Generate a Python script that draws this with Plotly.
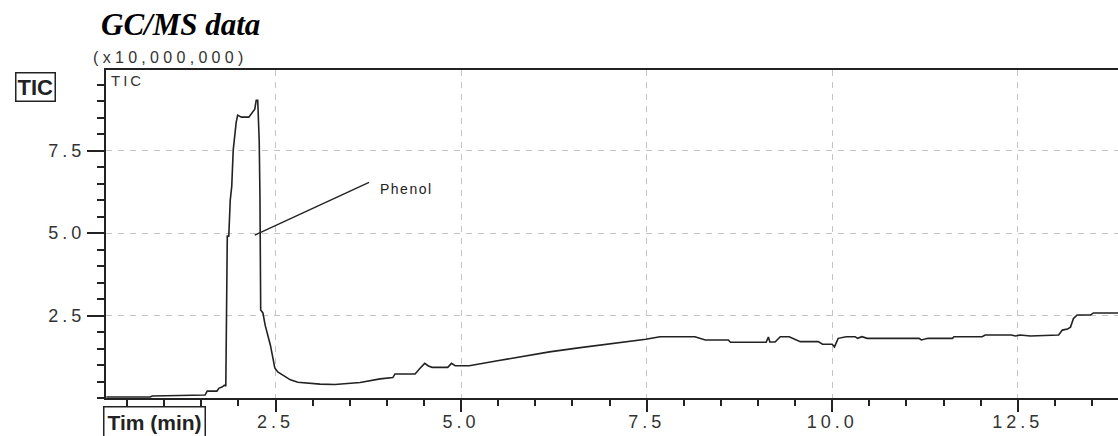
import plotly.graph_objects as go

# ---- data ----
time_min = [0.22, 0.81, 0.84, 1.21, 1.55, 1.58, 1.71, 1.74, 1.78, 1.81, 1.83, 1.85, 1.87,
            1.89, 1.91, 1.93, 1.94, 1.97, 1.99, 2.04, 2.14, 2.18, 2.22, 2.24, 2.26, 2.28,
            2.29, 2.30, 2.33, 2.36, 2.40, 2.43, 2.47, 2.49, 2.53, 2.63, 2.70, 2.80, 2.96,
            3.10, 3.30, 3.50, 3.64, 3.91, 4.08, 4.11, 4.38, 4.45, 4.51, 4.56, 4.61, 4.82,
            4.87, 4.92, 5.11, 5.49, 5.81, 6.19, 6.58, 6.95, 7.26, 7.49, 7.68, 8.15, 8.29,
            8.60, 8.63, 9.11, 9.14, 9.16, 9.23, 9.30, 9.42, 9.57, 9.81, 9.87, 10.00, 10.03,
            10.08, 10.19, 10.31, 10.34, 10.40, 10.47, 11.17, 11.20, 11.29, 11.62, 11.64,
            12.02, 12.06, 12.41, 12.47, 12.53, 12.67, 13.05, 13.10, 13.17, 13.21, 13.25,
            13.30, 13.48, 13.52, 13.85]
tic_1e7 = [0.03, 0.03, 0.06, 0.08, 0.09, 0.21, 0.21, 0.30, 0.33, 0.39, 0.36, 4.91, 4.91,
           6.00, 6.42, 7.52, 7.76, 8.36, 8.58, 8.52, 8.52, 8.64, 8.76, 9.03, 9.03, 7.82,
           6.12, 2.67, 2.58, 2.21, 1.91, 1.61, 1.15, 0.91, 0.79, 0.64, 0.55, 0.48, 0.45,
           0.42, 0.41, 0.44, 0.47, 0.58, 0.62, 0.73, 0.73, 0.91, 1.05, 0.97, 0.93, 0.93,
           1.05, 0.98, 0.98, 1.13, 1.25, 1.40, 1.52, 1.63, 1.73, 1.78, 1.86, 1.86, 1.76,
           1.76, 1.69, 1.69, 1.85, 1.70, 1.70, 1.86, 1.86, 1.71, 1.71, 1.63, 1.63, 1.55,
           1.81, 1.86, 1.86, 1.81, 1.86, 1.81, 1.81, 1.76, 1.81, 1.81, 1.86,
           1.86, 1.91, 1.91, 1.88, 1.91, 1.88, 1.91, 2.06, 2.09, 2.15, 2.41,
           2.52, 2.52, 2.58, 2.58]

x_tick_vals = [2.5, 5.0, 7.5, 10.0, 12.5]
x_tick_text = ["2.5", "5.0", "7.5", "10.0", "12.5"]
y_tick_vals = [2.5, 5.0, 7.5]
y_tick_text = ["2.5", "5.0", "7.5"]

title_text = "GC/MS data"
scale_text = "(x10,000,000)"
trace_label = "TIC"
x_label = "Tim (min)"
peak_label = "Phenol"
peak_line = ([2.22, 3.76], [4.94, 6.54])   # leader line end points (data units)
peak_text_pos = (3.88, 6.33)

# ---- layout geometry ----
W, H = 1118, 436
L, R, T, B = 106, 0, 70, 38
PW, PH = W - L - R, H - T - B


def px(x):
    return (x - L) / PW


def py(y):
    return (H - B - y) / PH


def spaced(s, ls):
    return f'<span style="letter-spacing:{ls}px">{s}</span>'


INK = "#222222"
TXT = "#333333"
GRID = "#c4c4c4"

fig = go.Figure()
fig.add_trace(go.Scatter(x=time_min, y=tic_1e7, mode="lines",
                         line=dict(color=INK, width=1.6), showlegend=False,
                         hoverinfo="skip"))

fig.update_layout(
    width=W, height=H,
    margin=dict(l=L, r=R, t=T, b=B, pad=0),
    paper_bgcolor="white", plot_bgcolor="white",
    font=dict(family="Liberation Sans, Arial, sans-serif", color=TXT),
    xaxis=dict(range=[0.216, 13.85], tickmode="array", tickvals=x_tick_vals,
               ticktext=[spaced(t, 4) for t in x_tick_text],
               ticks="outside", ticklen=12, tickwidth=1.5, tickcolor=INK,
               tickfont=dict(size=18, color=TXT), ticklabelstandoff=-6,
               minor=dict(dtick=0.5, tick0=0, ticks="outside", ticklen=6,
                          tickwidth=1.5, tickcolor=INK, showgrid=False),
               showgrid=True, gridcolor=GRID, gridwidth=1, griddash="6px,6px",
               showline=True, linecolor=INK, linewidth=2, mirror=True,
               zeroline=False, fixedrange=True),
    yaxis=dict(range=[0, 9.95], tickmode="array", tickvals=y_tick_vals,
               ticktext=[spaced(t, 4) for t in y_tick_text],
               ticks="outside", ticklen=17, tickwidth=1.5, tickcolor=INK,
               tickfont=dict(size=18, color=TXT), ticklabelstandoff=-2,
               minor=dict(dtick=0.5, tick0=0, ticks="outside", ticklen=7,
                          tickwidth=1.5, tickcolor=INK, showgrid=False),
               showgrid=True, gridcolor=GRID, gridwidth=1, griddash="6px,6px",
               showline=True, linecolor=INK, linewidth=2, mirror=False,
               zeroline=False, fixedrange=True),
)

# Phenol leader line
fig.add_shape(type="line", xref="x", yref="y",
              x0=peak_line[0][0], y0=peak_line[1][0],
              x1=peak_line[0][1], y1=peak_line[1][1],
              line=dict(color=INK, width=1.4))

anns = [
    dict(text=f"<b><i>{title_text}</i></b>", x=px(99), y=py(24), xanchor="left",
         yanchor="middle", font=dict(family="Liberation Serif, Times New Roman, serif",
                                     size=31, color="black")),
    dict(text=spaced(scale_text, 4.3), x=px(91), y=py(58), xanchor="left",
         yanchor="middle", font=dict(size=16, color=TXT)),
    dict(text=spaced(trace_label, 3), x=px(109), y=py(80), xanchor="left",
         yanchor="middle", font=dict(size=15, color=TXT)),
    dict(text=f"<b>{trace_label}</b>", x=px(35), y=py(87), xanchor="center",
         yanchor="middle", font=dict(size=22, color=INK), bordercolor=INK,
         borderwidth=1.5, borderpad=1, bgcolor="white"),
    dict(text=f"<b>{x_label}</b>", x=px(154), y=py(422), xanchor="center",
         yanchor="middle", font=dict(size=21, color=INK), bordercolor=INK,
         borderwidth=1.5, borderpad=3, bgcolor="white"),
]
for a in anns:
    a.update(xref="paper", yref="paper", showarrow=False)
    fig.add_annotation(**a)

fig.add_annotation(text=spaced(peak_label, 1.5), x=peak_text_pos[0], y=peak_text_pos[1],
                   xref="x", yref="y", xanchor="left", yanchor="middle",
                   showarrow=False, font=dict(size=14, color=INK))

fig.write_html("out.html", config={"displayModeBar": False})
